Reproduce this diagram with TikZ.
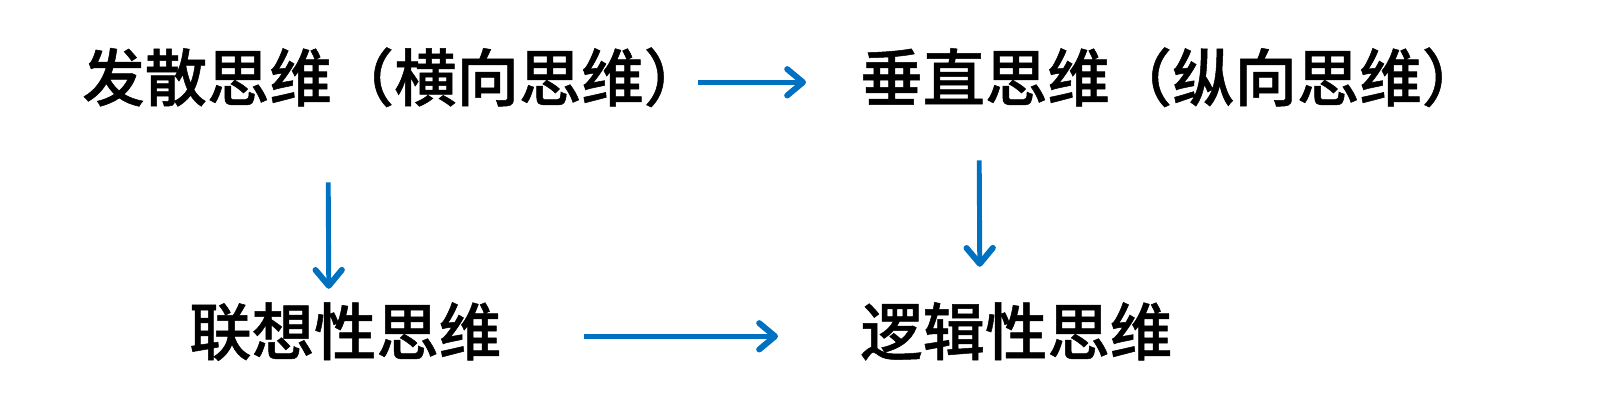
\documentclass[tikz,border=0pt]{standalone}
\usepackage{fontspec}
\usepackage{xcolor}
\usepackage{tikz}
\usetikzlibrary{positioning, arrows.meta}
\newfontfamily\cjk[FakeBold=0.8]{Noto Sans CJK SC Medium}
\definecolor{flowblue}{HTML}{0070C0}

\begin{document}
\begin{tikzpicture}[x=0.02cm, y=-0.02cm,
    idea/.style={inner sep=0pt, text height=31.24pt, text depth=4.26pt,
                 font=\cjk\fontsize{35.5pt}{42pt}\selectfont},
    flow/.style={draw=flowblue, line width=2.8pt,
                 -{Straight Barb[length=9pt, width=15pt, round, line width=3.4pt]}}]
    \useasboundingbox (0,0) rectangle (1600,416);

    \node[idea, anchor=base west] (fasan)     at (82,101)  {发散思维（横向思维）};
    \node[idea, anchor=base west] (chuizhi)   at (860,101) {垂直思维（纵向思维）};
    \node[idea, anchor=base west] (lianxiang) at (189,355) {联想性思维};
    \node[idea, anchor=base west] (luoji)     at (860,355) {逻辑性思维};

    \draw[flow] ([shift={(-8,5)}]fasan.east) -- ([shift={(-54,5)}]chuizhi.west);
    \draw[flow] ([shift={(-66,73.5)}]fasan.south) -- ([shift={(-16.5,-11)}]lianxiang.north);
    \draw[flow] ([shift={(-193,51.5)}]chuizhi.south) -- ([shift={(-36.5,-33)}]luoji.north);
    \draw[flow] ([shift={(82,5)}]lianxiang.east) -- ([shift={(-82,5)}]luoji.west);
  \end{tikzpicture}
\end{document}
